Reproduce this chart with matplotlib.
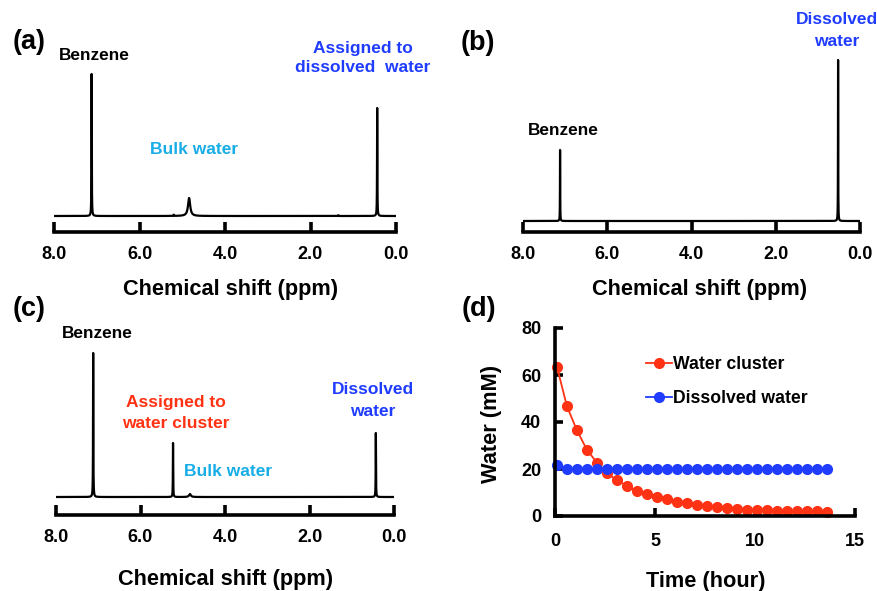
import numpy as np
import matplotlib
matplotlib.use('Agg')
import matplotlib.pyplot as plt

plt.rcParams['font.family'] = ['Liberation Sans', 'DejaVu Sans']
plt.rcParams['font.weight'] = 'bold'

# ---- data ----
# 1H NMR peaks: (shift ppm, height a.u., half width ppm)
peaks_a = [(7.12, 142, 0.004), (4.84, 18, 0.03), (5.20, 1.2, 0.006), (1.35, 0.8, 0.006), (0.44, 108, 0.004)]
peaks_b = [(7.12, 71, 0.003), (0.52, 161, 0.003)]
peaks_c = [(7.12, 144, 0.004), (5.23, 54, 0.004), (4.83, 3, 0.025), (0.43, 64, 0.004)]

time_h = [0.1, 0.6, 1.1, 1.6, 2.1, 2.6, 3.1, 3.6, 4.1, 4.6, 5.1, 5.6, 6.1, 6.6,
          7.1, 7.6, 8.1, 8.6, 9.1, 9.6, 10.1, 10.6, 11.1, 11.6, 12.1, 12.6, 13.1, 13.6]
cluster_mM = [63.4, 46.6, 36.4, 28.1, 22.7, 18.2, 15.2, 12.8, 10.5, 9.2, 8.2, 7.2, 6.1, 5.5,
              4.5, 4.4, 3.8, 3.4, 3.1, 2.7, 2.6, 2.4, 2.3, 2.1, 2.0, 2.1, 2.0, 1.8]
dissolved_mM = [21.7, 20.0, 20.0, 20.1, 20.0, 20.0, 20.1, 20.0, 20.0, 20.0, 20.0, 20.0, 20.1, 20.0,
                20.0, 19.9, 20.0, 20.0, 20.0, 20.1, 20.0, 20.1, 20.0, 20.0, 20.0, 20.0, 20.0, 20.1]

ppm_ticks = [8.0, 6.0, 4.0, 2.0, 0.0]

BLUE = '#1f3cff'
CYAN = '#17ade6'
RED = '#ff3214'

W, H = 877, 591
fig = plt.figure(figsize=(W / 100, H / 100), dpi=100)


def px_axes(left, top, right, bottom):
    return fig.add_axes([left / W, 1 - bottom / H, (right - left) / W, (bottom - top) / H])


def px_text(x, y, s, **kw):
    fig.text(x / W, 1 - y / H, s, ha=kw.pop('ha', 'center'), va=kw.pop('va', 'center'), **kw)


def spectrum(ax, peaks, lo, hi):
    x = np.linspace(8.0, 0.0, 40001)
    y = np.zeros_like(x)
    for c, h, w in peaks:
        y += h * w ** 2 / ((x - c) ** 2 + w ** 2)
    ax.plot(x, y, color='black', lw=1.6)
    ax.set_xlim(8.0, 0.0)
    ax.set_ylim(lo, hi)
    for s in ['top', 'right', 'left']:
        ax.spines[s].set_visible(False)
    ax.spines['bottom'].set_linewidth(2.6)
    ax.set_yticks([])
    ax.set_xticks(ppm_ticks)
    ax.set_xticklabels(['%.1f' % t for t in ppm_ticks])
    ax.tick_params(axis='x', direction='in', length=7, width=2.6, labelsize=13, pad=10)


# (a)
ax_a = px_axes(54, 40, 396, 232)
spectrum(ax_a, peaks_a, -16, 176)
px_text(29, 42, '(a)', fontsize=19.5)
px_text(94, 55, 'Benzene', fontsize=12.4)
px_text(194, 149, 'Bulk water', fontsize=12.5, color=CYAN)
px_text(363, 48, 'Assigned to', fontsize=12.5, color=BLUE)
px_text(363, 68, 'dissolved  water', fontsize=12.5, color=BLUE)
px_text(231, 289, 'Chemical shift (ppm)', fontsize=15.7)

# (b)
ax_b = px_axes(523, 40, 860, 232)
spectrum(ax_b, peaks_b, -11, 181)
px_text(478, 43, '(b)', fontsize=19.5)
px_text(563, 130, 'Benzene', fontsize=12.4)
px_text(837, 20, 'Dissolved', fontsize=12.5, color=BLUE)
px_text(837, 42, 'water', fontsize=12.5, color=BLUE)
px_text(700, 289, 'Chemical shift (ppm)', fontsize=15.7)

# (c)
ax_c = px_axes(56, 320, 394, 515)
spectrum(ax_c, peaks_c, -18, 177)
px_text(29, 309, '(c)', fontsize=19.5)
px_text(97, 333, 'Benzene', fontsize=12.4)
px_text(176, 402, 'Assigned to', fontsize=12.5, color=RED)
px_text(176, 423, 'water cluster', fontsize=12.5, color=RED)
px_text(228, 471, 'Bulk water', fontsize=12.5, color=CYAN)
px_text(373, 390, 'Dissolved', fontsize=12.5, color=BLUE)
px_text(373, 411, 'water', fontsize=12.5, color=BLUE)
px_text(226, 580, 'Chemical shift (ppm)', fontsize=15.7)

# (d)
ax_d = px_axes(555, 328, 855, 516)
ax_d.plot(time_h, cluster_mM, '-o', color=RED, ms=7, lw=1.3, label='Water cluster', clip_on=False)
ax_d.plot(time_h, dissolved_mM, '-o', color=BLUE, ms=7, lw=1.3, label='Dissolved water', clip_on=False)
ax_d.set_xlim(0, 15)
ax_d.set_ylim(0, 80)
ax_d.set_xticks([0, 5, 10, 15])
ax_d.set_yticks([0, 20, 40, 60, 80])
for s in ['top', 'right']:
    ax_d.spines[s].set_visible(False)
for s in ['left', 'bottom']:
    ax_d.spines[s].set_linewidth(2.6)
ax_d.tick_params(direction='in', length=6, width=2.6, labelsize=13)
ax_d.tick_params(axis='x', pad=12)
ax_d.tick_params(axis='y', pad=10)
ax_d.legend(loc='upper left', bbox_to_anchor=(646 / W, 1 - 356 / H), bbox_transform=fig.transFigure,
            frameon=False, fontsize=12.7, handlelength=1.45, handletextpad=0.1, labelspacing=0.95,
            numpoints=1, borderaxespad=0, borderpad=0)
px_text(479, 309, '(d)', fontsize=19.5)
px_text(492, 424, 'Water (mM)', fontsize=15.7, rotation=90)
px_text(706, 582, 'Time (hour)', fontsize=15.7)

fig.savefig('out.png', dpi=100)
